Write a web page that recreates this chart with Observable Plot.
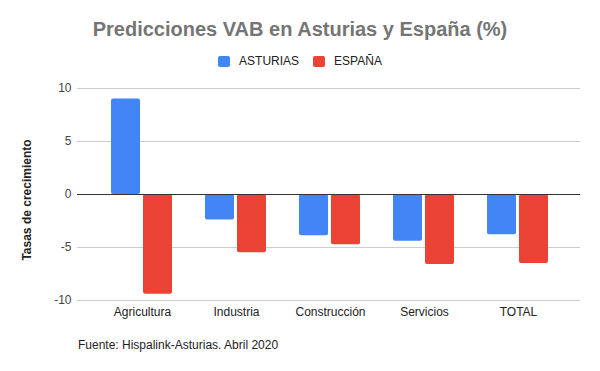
<!DOCTYPE html>
<html>
<head>
<meta charset="utf-8">
<script src="https://cdn.jsdelivr.net/npm/d3@7"></script>
<script src="https://cdn.jsdelivr.net/npm/@observablehq/plot@0.6"></script>
<style>
  html, body { margin: 0; padding: 0; background: #fff; }
  #wrap { position: relative; width: 600px; height: 371px; font-family: "Liberation Sans", Arial, sans-serif; overflow: hidden; }
  #title { position: absolute; left: 0; width: 600px; top: 18px; text-align: center; font-size: 20px; font-weight: bold; color: #757575; }
  #legend { position: absolute; left: 0; width: 600px; top: 54px; display: flex; justify-content: center; align-items: center; font-size: 12px; color: #222; }
  #legend .item { display: flex; align-items: center; margin: 0 7px; }
  #legend .sw { width: 12px; height: 11px; border-radius: 2px; margin-right: 9px; }
  #chart { position: absolute; left: 0; top: 70px; }
  #ylabel { position: absolute; left: 27px; top: 200px; transform: translate(-50%, -50%) rotate(-90deg); white-space: nowrap; font-size: 12px; font-weight: bold; color: #222; }
  #caption { position: absolute; left: 78px; top: 338px; font-size: 12px; color: #222; }
</style>
</head>
<body>
<div id="wrap">
  <div id="title">Predicciones VAB en Asturias y España (%)</div>
  <div id="legend"></div>
  <div id="chart"></div>
  <div id="ylabel">Tasas de crecimiento</div>
  <div id="caption">Fuente: Hispalink-Asturias. Abril 2020</div>
</div>
<script>
const categories = ["Agricultura", "Industria", "Construcción", "Servicios", "TOTAL"];
const series = ["ASTURIAS", "ESPAÑA"];
const asturias = [9.0, -2.4, -3.9, -4.4, -3.8];
const espana = [-9.4, -5.5, -4.75, -6.6, -6.5];
const yTicks = [-10, -5, 0, 5, 10];
const colors = ["#4285F4", "#EA4335"];

const dataA = categories.map((c, i) => ({cat: c, series: series[0], value: asturias[i]}));
const dataE = categories.map((c, i) => ({cat: c, series: series[1], value: espana[i]}));

// legend
const legend = document.getElementById("legend");
series.forEach((s, i) => {
  const item = document.createElement("div");
  item.className = "item";
  item.innerHTML = `<span class="sw" style="background:${colors[i]}"></span><span>${s}</span>`;
  legend.appendChild(item);
});

const chart = Plot.plot({
  width: 600,
  height: 262,
  marginLeft: 77,
  marginRight: 20,
  marginTop: 18,
  marginBottom: 32,
  style: {fontFamily: "Liberation Sans, Arial, sans-serif", fontSize: "12px", color: "#222", background: "#fff"},
  x: {domain: categories, range: [94, 565], padding: 0, label: null},
  y: {domain: [-10, 10], label: null},
  marks: [
    Plot.ruleY(yTicks.filter(d => d !== 0), {stroke: "#cccccc", strokeOpacity: 1}),
    Plot.barY(dataA, {x: "cat", y: "value", fill: colors[0], insetLeft: 16, insetRight: 49, rx: 2}),
    Plot.barY(dataE, {x: "cat", y: "value", fill: colors[1], insetLeft: 48, insetRight: 17, rx: 2}),
    Plot.ruleY([0], {stroke: "#333333", strokeWidth: 1}),
    Plot.axisX({tickSize: 0, tickPadding: 7, fontSize: 12, fill: "#222", label: null}),
    Plot.axisY({ticks: yTicks, tickSize: 0, tickPadding: 6, tickFormat: d => String(d), fontSize: 12, fill: "#444", label: null})
  ]
});
document.getElementById("chart").appendChild(chart);
</script>
</body>
</html>
